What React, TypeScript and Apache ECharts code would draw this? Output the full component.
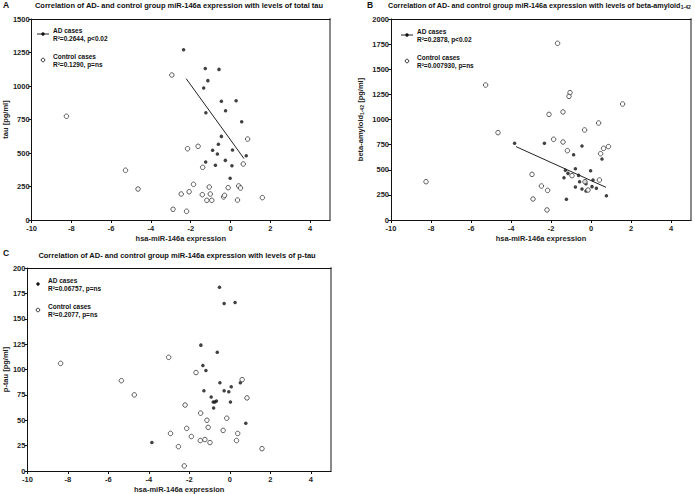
import React, { useEffect, useRef } from "react";
import * as echarts from "echarts";

// ---------- data ----------
const xLabel = "hsa-miR-146a expression";

// Panel A: total tau
const adTau: [number, number][] = [
  [-2.36, 1270], [-1.27, 1130], [-0.58, 1124], [-1.14, 1040], [-1.35, 985],
  [-0.46, 886], [0.28, 890], [-0.25, 816], [-1.24, 801], [0.56, 734],
  [-0.46, 624], [-0.61, 565], [-0.9, 520], [-0.66, 493], [0.1, 522],
  [0.79, 480], [-1.25, 433], [-0.26, 445], [-0.76, 408], [0.07, 405], [-0.02, 311],
];
const ctrlTau: [number, number][] = [
  [-2.95, 1082], [-8.25, 774], [0.86, 604], [-2.16, 532], [-1.63, 550],
  [-1.4, 393], [0.64, 418], [-5.28, 371], [-4.65, 231], [-1.86, 266],
  [-2.48, 194], [-2.08, 211], [-1.42, 189], [-1.07, 246], [-1.02, 194],
  [-1.19, 147], [-0.94, 147], [-0.35, 172], [-0.3, 184], [-0.12, 241],
  [0.41, 254], [0.5, 239], [0.35, 149], [1.6, 167], [-2.89, 80], [-2.21, 65],
];
const fitTau: [number, number][] = [[-2.23, 1055], [0.68, 458]];

// Panel B: beta-amyloid 1-42
const adAbeta: [number, number][] = [
  [-3.82, 763], [-2.33, 763], [-0.45, 736], [-0.87, 650], [-0.78, 511],
  [-0.02, 491], [-1.28, 494], [-1.15, 464], [-0.62, 444], [-1.35, 421],
  [-0.57, 381], [-0.28, 385], [-0.25, 361], [0.1, 398], [-0.78, 328],
  [-0.45, 308], [0.05, 332], [0.27, 315], [0.55, 607], [0.77, 242],
  [-1.23, 206], [-0.25, 288],
];
const ctrlAbeta: [number, number][] = [
  [-1.67, 1758], [-5.27, 1343], [-1.05, 1267], [-1.1, 1230], [1.58, 1154],
  [-1.4, 1075], [-2.1, 1051], [0.38, 965], [-0.32, 896], [-4.65, 869],
  [-1.87, 803], [-1.4, 776], [-1.18, 690], [0.87, 730], [0.63, 713],
  [0.48, 660], [-0.95, 441], [-2.95, 454], [-0.3, 381], [0.42, 398],
  [-2.48, 338], [-2.17, 295], [-0.15, 298], [-2.9, 209], [-2.2, 100], [-8.25, 381],
];
const fitAbeta: [number, number][] = [[-3.75, 730], [0.75, 325]];

// Panel C: p-tau
const adPtau: [number, number][] = [
  [-0.51, 181], [-0.28, 165], [0.26, 166], [-1.43, 124], [-0.62, 117],
  [-1.33, 104], [-1.18, 99], [-0.49, 87], [0.07, 83], [0.52, 87],
  [-1.28, 79], [-0.28, 79], [-0.05, 78], [-0.92, 73], [-0.82, 68],
  [-0.74, 68], [-0.66, 69], [0.03, 68], [-0.8, 62], [0.79, 47], [-3.85, 28],
];
const ctrlPtau: [number, number][] = [
  [-8.36, 106], [-3.02, 112], [-5.36, 89], [-4.72, 75], [-1.67, 97],
  [0.61, 90], [0.85, 72], [-2.21, 65], [-1.44, 57], [-1.13, 50],
  [-0.15, 52], [-1.07, 43], [-2.13, 42], [-2.93, 37], [-1.9, 34],
  [-0.33, 40], [0.39, 37], [-1.46, 30], [-1.23, 31], [-0.98, 28],
  [0.33, 30], [-2.54, 24], [1.59, 22], [-2.25, 5],
];

const panelTitles = [
  "Correlation of AD- and control group miR-146a expression with levels of total tau",
  "Correlation of AD- and control group miR-146a expression with levels of beta-amyloid{sub|1-42}",
  "Correlation of AD- and control group miR-146a expression with levels of p-tau",
];
const yNames = ["tau [pg/ml]", "beta-amyloid{sub|1-42} [pg/ml]", "p-tau [pg/ml]"];
const yMax = [1500, 2000, 200];
const yStep = [250, 250, 25];
const adStats = ["R²=0.2644, p<0.02", "R²=0.2878, p<0.02", "R²=0.06757, p=ns"];
const ctrlStats = ["R²=0.1290, p=ns", "R²=0.007930, p=ns", "R²=0.2077, p=ns"];

// ---------- layout ----------
const FONT = "'Liberation Sans', Arial, sans-serif";
const grids = [
  { left: 27, top: 19, width: 303, height: 201 },
  { left: 391, top: 19, width: 300, height: 201 },
  { left: 23, top: 268, width: 308, height: 205 },
];
const yNameGap = [19, 27, 15];

export default function App() {
  const ref = useRef<HTMLDivElement>(null);
  useEffect(() => {
    if (!ref.current) return;
    const chart = echarts.init(ref.current, undefined, { renderer: "svg" });
    const lbl = { fontFamily: FONT, fontWeight: "bold" as const, color: "#222", fontSize: 7.5 };
    const sub = { sub: { fontFamily: FONT, fontWeight: "bold" as const, fontSize: 5, verticalAlign: "bottom" as const, padding: [3, 0, 0, 0] } };

    const xAxis: any[] = [];
    const yAxis: any[] = [];
    grids.forEach((g, i) => {
      xAxis.push({
        type: "value", gridIndex: i, min: -10, max: 5, interval: 2,
        name: xLabel, nameLocation: "middle", nameGap: 14,
        nameTextStyle: { ...lbl, fontSize: 7.5 },
        axisLine: { onZero: false, lineStyle: { color: "#111", width: 1 } },
        axisTick: { length: 3, lineStyle: { color: "#111" } },
        axisLabel: { ...lbl, margin: 4, showMaxLabel: false, formatter: (v: number) => String(v) },
        splitLine: { show: false },
      });
      // top frame
      xAxis.push({
        type: "value", gridIndex: i, min: -10, max: 5, position: "top",
        axisLine: { onZero: false, lineStyle: { color: "#111", width: 1 } },
        axisTick: { show: false }, axisLabel: { show: false }, splitLine: { show: false },
      });
      yAxis.push({
        type: "value", gridIndex: i, min: 0, max: yMax[i], interval: yStep[i],
        name: yNames[i], nameLocation: "middle", nameRotate: 90, nameGap: yNameGap[i],
        nameTextStyle: { ...lbl, rich: sub },
        axisLine: { onZero: false, lineStyle: { color: "#111", width: 1 } },
        axisTick: { length: 3, lineStyle: { color: "#111" } },
        axisLabel: { ...lbl, margin: 2, formatter: (v: number) => String(v) },
        splitLine: { show: false },
      });
      // right frame (grey)
      yAxis.push({
        type: "value", gridIndex: i, min: 0, max: yMax[i], position: "right",
        axisLine: { onZero: false, lineStyle: { color: "#8a8a8a", width: 2 } },
        axisTick: { show: false }, axisLabel: { show: false }, splitLine: { show: false },
      });
    });

    const adData = [adTau, adAbeta, adPtau];
    const ctrlData = [ctrlTau, ctrlAbeta, ctrlPtau];
    const fits = [fitTau, fitAbeta, null];
    const series: any[] = [];
    for (let i = 0; i < 3; i++) {
      series.push({
        type: "scatter", name: "AD cases", xAxisIndex: 2 * i, yAxisIndex: 2 * i,
        data: adData[i], symbol: "circle", symbolSize: 3.5,
        itemStyle: { color: "#111" },
      });
      series.push({
        type: "scatter", name: "Control cases", xAxisIndex: 2 * i, yAxisIndex: 2 * i,
        data: ctrlData[i], symbol: "circle", symbolSize: 4.5,
        itemStyle: { color: "#fff", borderColor: "#333", borderWidth: 1 },
      });
      const f = fits[i];
      if (f) {
        series.push({
          type: "line", xAxisIndex: 2 * i, yAxisIndex: 2 * i, data: f,
          symbol: "none", lineStyle: { color: "#222", width: 1 },
        });
      }
    }

    // titles, panel letters, legends
    const txt = (x: number, y: number, text: string, opts: any = {}) => ({
      type: "text", x, y, silent: true,
      style: {
        text, fontFamily: FONT, fontWeight: "bold", fontSize: 7.5, fill: "#111",
        textVerticalAlign: "middle",
        rich: { sub: { fontFamily: FONT, fontWeight: "bold", fontSize: 5, verticalAlign: "bottom", padding: [4, 0, 0, 0] } },
        ...opts,
      },
    });
    const graphic: any[] = [
      txt(3, 5, "A", { fontSize: 8.5 }),
      txt(367, 5, "B", { fontSize: 8.5 }),
      txt(3, 253, "C", { fontSize: 8.5 }),
      txt(179, 5, panelTitles[0], { textAlign: "center" }),
      txt(388, 5, panelTitles[1], { fontSize: 7.2 }),
      txt(177, 255, panelTitles[2], { textAlign: "center" }),
    ];
    const legends = [
      { mx: 43, my: 34, tx: 53, line: true },
      { mx: 407, my: 35, tx: 417, line: true },
      { mx: 38, my: 284, tx: 48, line: false },
    ];
    legends.forEach((L, i) => {
      if (L.line) {
        graphic.push({ type: "line", silent: true, shape: { x1: L.mx - 6, y1: L.my, x2: L.mx + 6, y2: L.my }, style: { stroke: "#222", lineWidth: 1 } });
      }
      graphic.push({ type: "circle", silent: true, shape: { cx: L.mx, cy: L.my, r: 1.7 }, style: { fill: "#111" } });
      graphic.push(txt(L.tx, L.my - 3.5, "AD cases", { fontSize: 6.5 }));
      graphic.push(txt(L.tx, L.my + 4, adStats[i], { fontSize: 6.5 }));
      const cy = L.my + 26;
      graphic.push({ type: "circle", silent: true, shape: { cx: L.mx, cy, r: 1.8 }, style: { fill: "#fff", stroke: "#333", lineWidth: 1 } });
      graphic.push(txt(L.tx, cy - 3.5, "Control cases", { fontSize: 6.5 }));
      graphic.push(txt(L.tx, cy + 4, ctrlStats[i], { fontSize: 6.5 }));
    });

    chart.setOption({
      animation: false,
      backgroundColor: "#fff",
      textStyle: { fontFamily: FONT },
      grid: grids.map((g) => ({ ...g, containLabel: false })),
      xAxis, yAxis, series, graphic,
    });
    return () => chart.dispose();
  }, []);
  return (
    <div
      ref={ref}
      style={{ position: "fixed", left: 0, top: 0, width: 695, height: 494, background: "#fff" }}
    />
  );
}
